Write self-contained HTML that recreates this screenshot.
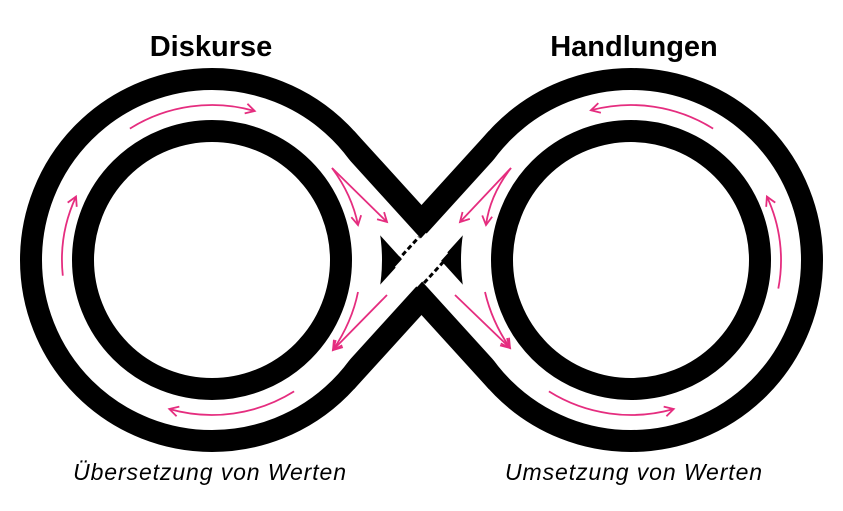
<!DOCTYPE html>
<html><head><meta charset="utf-8"><style>
html,body{margin:0;padding:0;background:#fff;}
svg{display:block}
</style></head><body>
<svg width="843" height="511" viewBox="0 0 843 511" xmlns="http://www.w3.org/2000/svg">
<defs>
<marker id="a" markerWidth="14" markerHeight="14" refX="10" refY="6" orient="auto" markerUnits="userSpaceOnUse">
<path d="M1,1 L10,6 L1,11" fill="none" stroke="#e52d7f" stroke-width="1.8"/>
</marker>
</defs>
<g fill="none">
<circle cx="212" cy="260" r="155" stroke="#000" stroke-width="74"/>
<circle cx="631" cy="260" r="155" stroke="#000" stroke-width="74"/>
<line x1="326.7" y1="155.7" x2="516.3" y2="364.3" stroke="#000" stroke-width="74"/>
<line x1="326.7" y1="364.3" x2="516.3" y2="155.7" stroke="#000" stroke-width="74"/>
<circle cx="212" cy="260" r="155" stroke="#fff" stroke-width="30"/>
<circle cx="631" cy="260" r="155" stroke="#fff" stroke-width="30"/>
<line x1="326.7" y1="155.7" x2="516.3" y2="364.3" stroke="#fff" stroke-width="28"/>
<line x1="326.7" y1="364.3" x2="516.3" y2="155.7" stroke="#fff" stroke-width="28"/>
<line x1="406" y1="277" x2="437" y2="243" stroke="#fff" stroke-width="30"/>
<line x1="397" y1="261" x2="419" y2="237" stroke="#000" stroke-width="3" stroke-dasharray="5,3"/>
<line x1="424" y1="283" x2="446" y2="259" stroke="#000" stroke-width="3" stroke-dasharray="5,3"/>
<g stroke="#e52d7f" stroke-width="1.8" marker-end="url(#a)">
<path d="M129.9,128.6 A155,155 0 0 1 254.7,111"/>
<path d="M62.8,275.7 A150,150 0 0 1 76,196.6"/>
<path d="M294.1,391.4 A155,155 0 0 1 169.3,409"/>
<path d="M713.1,128.6 A155,155 0 0 0 590.9,110.3"/>
<path d="M778.3,288.6 A150,150 0 0 0 766.9,196.6"/>
<path d="M548.9,391.4 A155,155 0 0 0 673.7,409"/>
<path d="M332,168 L387,222"/>
<path d="M332,168 Q352,195 358,225"/>
<path d="M387,295 L333,350"/>
<path d="M358,292 Q352,322 333,350"/>
<path d="M511,168 L460,222"/>
<path d="M511,168 Q490,195 486,225"/>
<path d="M455,295 L510,348"/>
<path d="M485,292 Q492,322 510,348"/>
</g>
</g>
<g font-family="Liberation Sans, sans-serif" fill="#000">
<text x="211" y="56" font-size="29" font-weight="bold" text-anchor="middle">Diskurse</text>
<text x="634" y="56" font-size="29" font-weight="bold" text-anchor="middle">Handlungen</text>
<text x="210" y="480" font-size="23" font-style="italic" letter-spacing="0.9" text-anchor="middle">Übersetzung von Werten</text>
<text x="634" y="480" font-size="23" font-style="italic" letter-spacing="0.9" text-anchor="middle">Umsetzung von Werten</text>
</g>
</svg>
</body></html>
